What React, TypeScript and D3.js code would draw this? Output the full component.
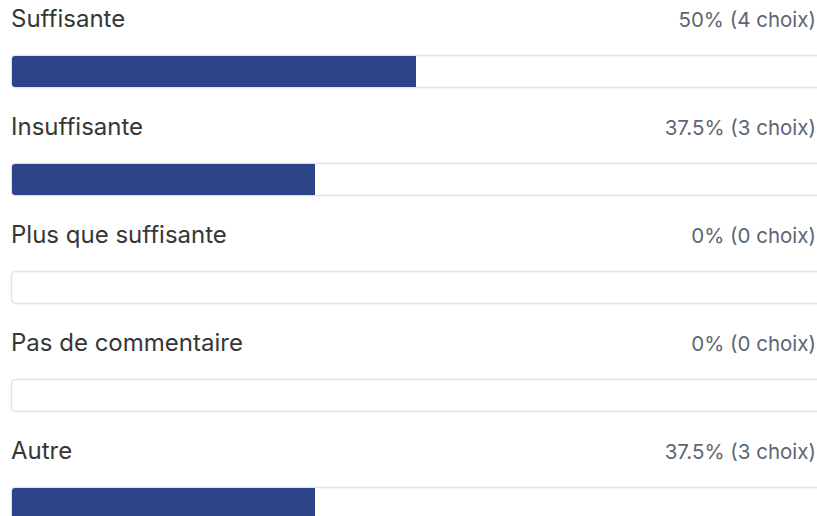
import React from "react";
import * as d3 from "d3";

const categories = ["Suffisante", "Insuffisante", "Plus que suffisante", "Pas de commentaire", "Autre"];
const percents = [50, 37.5, 0, 0, 37.5];
const counts = [4, 3, 0, 0, 3];

const W = 817;
const H = 516;

function leftRoundedRect(x0: number, y0: number, w: number, h: number, r: number) {
  const p = d3.path();
  p.moveTo(x0 + r, y0);
  p.lineTo(x0 + w, y0);
  p.lineTo(x0 + w, y0 + h);
  p.lineTo(x0 + r, y0 + h);
  p.arcTo(x0, y0 + h, x0, y0 + h - r, r);
  p.lineTo(x0, y0 + r);
  p.arcTo(x0, y0, x0 + r, y0, r);
  p.closePath();
  return p.toString();
}

export default function App() {
  const x = d3.scaleLinear().domain([0, 100]).range([12, 820]);
  const y = d3.scaleBand().domain(categories).range([0, 540]).paddingInner(0);
  const font = "Inter, sans-serif";
  return (
    <svg width={W} height={H} style={{ position: "absolute", left: 0, top: 0, background: "#fff" }}>
      {categories.map((c, i) => {
        const y0 = y(c)!;
        return (
          <g key={c}>
            <text x={11} y={y0 + 26.5} fontFamily={font} fontSize={24} fill="#363636">{c}</text>
            <text x={816} y={y0 + 27} fontFamily={font} fontSize={20.5} fill="#5d6673" textAnchor="end">
              {`${percents[i]}% (${counts[i]} choix)`}
            </text>
            <rect x={11.5} y={y0 + 55.5} width={x(100) - 11.5} height={32} rx={4} fill="#fff" stroke="#e3e3e3" strokeWidth={1.5} />
            {percents[i] > 0 && (
              <path d={leftRoundedRect(x(0), y0 + 56, x(percents[i]) - x(0), 31, 3)} fill="#2d4488" />
            )}
          </g>
        );
      })}
    </svg>
  );
}
